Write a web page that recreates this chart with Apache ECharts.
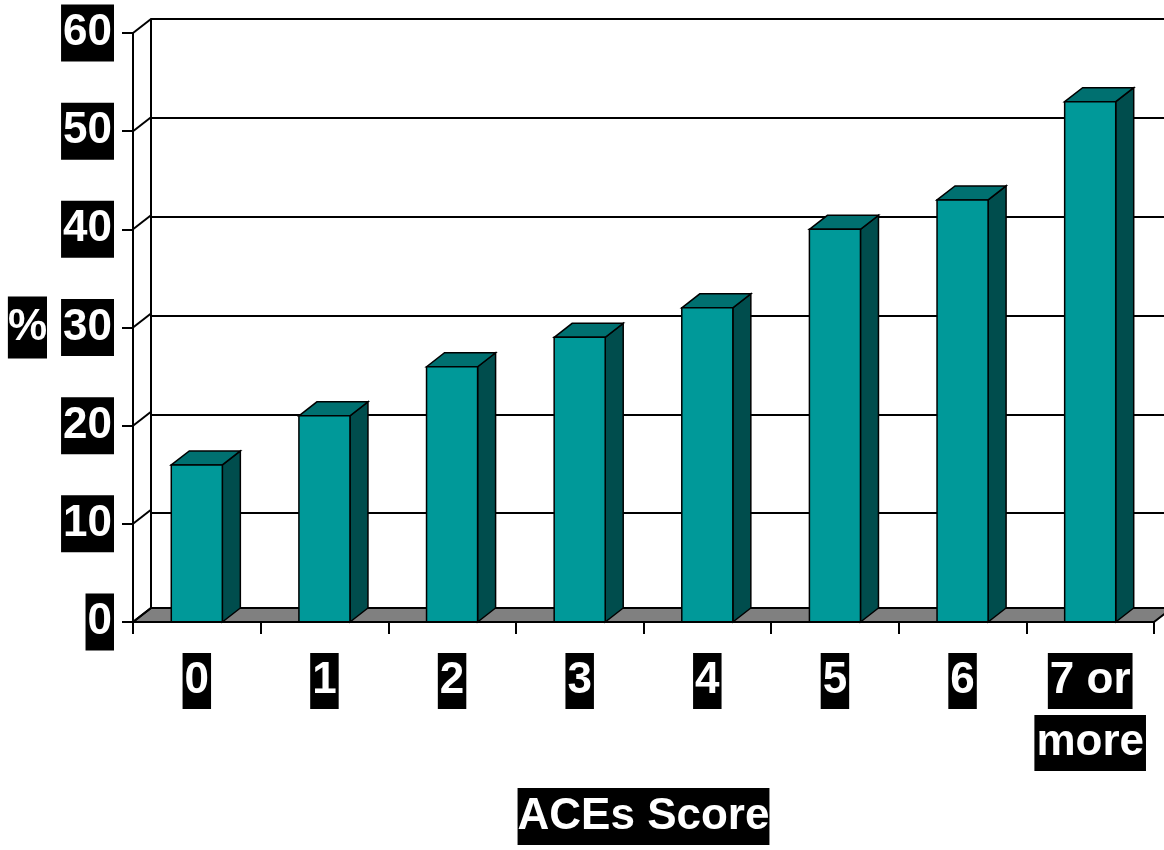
<!DOCTYPE html>
<html>
<head>
<meta charset="utf-8">
<script src="https://cdn.jsdelivr.net/npm/echarts@6/dist/echarts.min.js"></script>
<style>
  html, body { margin: 0; padding: 0; background: #fff; }
  #chart { width: 1164px; height: 850px; }
</style>
</head>
<body>
<div id="chart"></div>
<script>
const categories = ['0', '1', '2', '3', '4', '5', '6', '7 or\nmore']
const values = [16, 21, 26, 29, 32, 40, 43, 53]
const yTicks = [0, 10, 20, 30, 40, 50, 60]

// depth of the fake 3D box, in pixels
const DX = 18
const DY = -14
const FONT = '"Liberation Sans", Arial, sans-serif'

const labelStyle = {
  color: '#fff',
  fontFamily: FONT,
  fontWeight: 'bold',
  fontSize: 44,
  lineHeight: 57,
  backgroundColor: '#000',
  padding: [0, 2]
}

const chart = echarts.init(document.getElementById('chart'))

function renderFloor(params, api) {
  const cs = params.coordSys
  const y0 = api.coord([0, 0])[1]
  const x0 = cs.x, x1 = cs.x + cs.width
  return {
    type: 'polygon',
    shape: { points: [[x0, y0], [x1, y0], [x1 + DX, y0 + DY], [x0 + DX, y0 + DY]] },
    style: { fill: '#808080', stroke: '#000', lineWidth: 2 }
  }
}

function renderDepth(params, api) {
  const x = params.coordSys.x
  const y = api.coord([0, api.value(1)])[1]
  return {
    type: 'line',
    shape: { x1: x, y1: y, x2: x + DX, y2: y + DY },
    style: { stroke: '#000', lineWidth: 2 }
  }
}

function renderBar(params, api) {
  const i = api.value(0)
  const top = api.coord([i, api.value(1)])
  const base = api.coord([i, 0])
  const w = api.size([1, 0])[0] * 0.4
  const l = top[0] - w / 2, r = top[0] + w / 2, t = top[1], b = base[1]
  const line = { stroke: '#000', lineWidth: 1.5 }
  return {
    type: 'group',
    children: [
      { type: 'polygon', shape: { points: [[r, t], [r + DX, t + DY], [r + DX, b + DY], [r, b]] }, style: { fill: '#004d4d', ...line } },
      { type: 'polygon', shape: { points: [[l, t], [l + DX, t + DY], [r + DX, t + DY], [r, t]] }, style: { fill: '#007070', ...line } },
      { type: 'rect', shape: { x: l, y: t, width: w, height: b - t }, style: { fill: '#009999', ...line } }
    ]
  }
}

chart.setOption({
  backgroundColor: '#fff',
  animation: false,
  grid: [
    { left: 133, top: 33, width: 1021, height: 593 },
    { left: 133 + DX, top: 33 + DY, width: 1021, height: 593 }
  ],
  xAxis: [
    {
      type: 'category', gridIndex: 0, data: categories, z: 5,
      axisLine: { lineStyle: { color: '#000', width: 2 } },
      axisTick: { show: true, interval: 0, length: 12, lineStyle: { color: '#000', width: 2 } },
      axisLabel: {
        interval: 0, margin: 28, verticalAlign: 'top',
        formatter: v => v.split('\n').map(s => '{a|' + s + '}').join('\n'),
        rich: {
          a: { ...labelStyle, lineHeight: 62, padding: [6, 2] }
        }
      },
      name: 'ACEs Score', nameLocation: 'middle', nameGap: 166,
      nameTextStyle: { ...labelStyle, padding: [0, 0] }
    },
    { type: 'category', gridIndex: 1, data: categories, show: false }
  ],
  yAxis: [
    {
      type: 'value', gridIndex: 0, min: 0, max: 60, interval: 10, z: 5,
      axisLine: { show: true, lineStyle: { color: '#000', width: 2 } },
      axisTick: { show: true, length: 11, lineStyle: { color: '#000', width: 2 } },
      splitLine: { show: false },
      axisLabel: { margin: 19, ...labelStyle },
      name: '%', nameLocation: 'middle', nameRotate: 0, nameGap: 86,
      nameTextStyle: { ...labelStyle, lineHeight: 62, padding: [0, 0] }
    },
    {
      type: 'value', gridIndex: 1, min: 0, max: 60, interval: 10,
      axisLine: { show: true, lineStyle: { color: '#000', width: 2 } },
      axisTick: { show: false },
      axisLabel: { show: false },
      splitLine: { show: true, lineStyle: { color: '#000', width: 2 } }
    }
  ],
  series: [
    { type: 'custom', xAxisIndex: 0, yAxisIndex: 0, z: 1, silent: true, renderItem: renderFloor, data: [[0, 0]] },
    { type: 'custom', xAxisIndex: 0, yAxisIndex: 0, z: 1, silent: true, renderItem: renderDepth, data: yTicks.map(t => [0, t]) },
    { type: 'custom', xAxisIndex: 0, yAxisIndex: 0, z: 3, renderItem: renderBar, data: values.map((v, i) => [i, v]) }
  ]
})
</script>
</body>
</html>
